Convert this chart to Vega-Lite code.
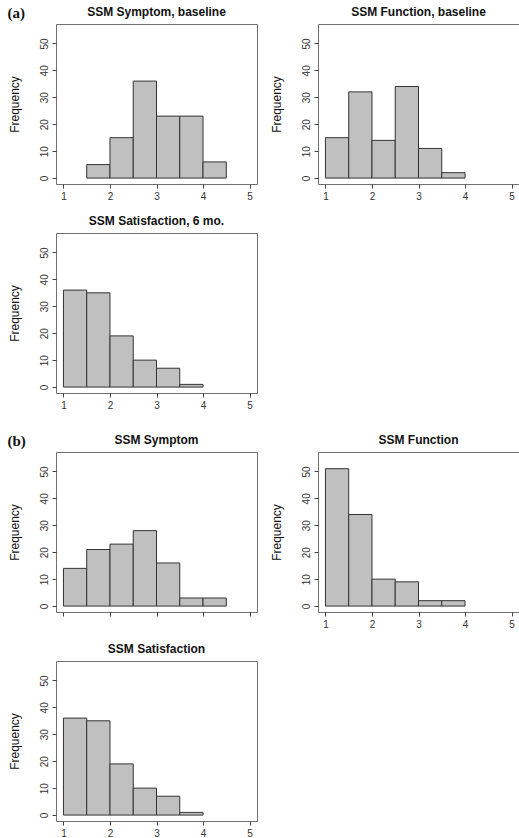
{
  "$schema": "https://vega.github.io/schema/vega-lite/v6.json",
  "background": "white",
  "padding": {"left": 7, "top": 5, "right": 0, "bottom": 0},
  "datasets": {
    "a1": [{"lo": 1.5, "hi": 2, "n": 5}, {"lo": 2, "hi": 2.5, "n": 15}, {"lo": 2.5, "hi": 3, "n": 36}, {"lo": 3, "hi": 3.5, "n": 23}, {"lo": 3.5, "hi": 4, "n": 23}, {"lo": 4, "hi": 4.5, "n": 6}],
    "a2": [{"lo": 1, "hi": 1.5, "n": 15}, {"lo": 1.5, "hi": 2, "n": 32}, {"lo": 2, "hi": 2.5, "n": 14}, {"lo": 2.5, "hi": 3, "n": 34}, {"lo": 3, "hi": 3.5, "n": 11}, {"lo": 3.5, "hi": 4, "n": 2}],
    "a3": [{"lo": 1, "hi": 1.5, "n": 36}, {"lo": 1.5, "hi": 2, "n": 35}, {"lo": 2, "hi": 2.5, "n": 19}, {"lo": 2.5, "hi": 3, "n": 10}, {"lo": 3, "hi": 3.5, "n": 7}, {"lo": 3.5, "hi": 4, "n": 1}],
    "b1": [{"lo": 1, "hi": 1.5, "n": 14}, {"lo": 1.5, "hi": 2, "n": 21}, {"lo": 2, "hi": 2.5, "n": 23}, {"lo": 2.5, "hi": 3, "n": 28}, {"lo": 3, "hi": 3.5, "n": 16}, {"lo": 3.5, "hi": 4, "n": 3}, {"lo": 4, "hi": 4.5, "n": 3}],
    "b2": [{"lo": 1, "hi": 1.5, "n": 51}, {"lo": 1.5, "hi": 2, "n": 34}, {"lo": 2, "hi": 2.5, "n": 10}, {"lo": 2.5, "hi": 3, "n": 9}, {"lo": 3, "hi": 3.5, "n": 2}, {"lo": 3.5, "hi": 4, "n": 2}],
    "b3": [{"lo": 1, "hi": 1.5, "n": 36}, {"lo": 1.5, "hi": 2, "n": 35}, {"lo": 2, "hi": 2.5, "n": 19}, {"lo": 2.5, "hi": 3, "n": 10}, {"lo": 3, "hi": 3.5, "n": 7}, {"lo": 3.5, "hi": 4, "n": 1}]
  },
  "spacing": 22,
  "vconcat": [
    {
      "title": {"text": "(a)", "anchor": "start", "baseline": "top", "offset": 0, "dy": 15, "font": "Liberation Serif", "fontSize": 15, "fontWeight": "bold", "color": "#111"},
      "spacing": 12,
      "vconcat": [
        {
          "spacing": 11,
          "hconcat": [
            {
              "title": "SSM Symptom, baseline",
              "width": 201, "height": 160,
              "data": {"name": "a1"},
              "mark": {"type": "bar", "fill": "#c0c0c0", "stroke": "#333333", "strokeWidth": 1},
              "encoding": {
                "x": {"field": "lo", "type": "quantitative", "scale": {"domain": [0.84, 5.16], "nice": false, "zero": false}, "axis": {"values": [1, 2, 3, 4, 5], "title": null}},
                "x2": {"field": "hi"},
                "y": {"field": "n", "type": "quantitative", "scale": {"domain": [-2.2, 57.2], "nice": false, "zero": false}, "axis": {"values": [0, 10, 20, 30, 40, 50], "title": "Frequency"}},
                "y2": {"datum": 0}
              }
            },
            {
              "title": "SSM Function, baseline",
              "width": 201, "height": 160,
              "data": {"name": "a2"},
              "mark": {"type": "bar", "fill": "#c0c0c0", "stroke": "#333333", "strokeWidth": 1},
              "encoding": {
                "x": {"field": "lo", "type": "quantitative", "scale": {"domain": [0.84, 5.16], "nice": false, "zero": false}, "axis": {"values": [1, 2, 3, 4, 5], "title": null}},
                "x2": {"field": "hi"},
                "y": {"field": "n", "type": "quantitative", "scale": {"domain": [-2.2, 57.2], "nice": false, "zero": false}, "axis": {"values": [0, 10, 20, 30, 40, 50], "title": "Frequency"}},
                "y2": {"datum": 0}
              }
            }
          ]
        },
        {
          "title": "SSM Satisfaction, 6 mo.",
          "width": 201, "height": 160,
          "data": {"name": "a3"},
          "mark": {"type": "bar", "fill": "#c0c0c0", "stroke": "#333333", "strokeWidth": 1},
          "encoding": {
            "x": {"field": "lo", "type": "quantitative", "scale": {"domain": [0.84, 5.16], "nice": false, "zero": false}, "axis": {"values": [1, 2, 3, 4, 5], "title": null}},
            "x2": {"field": "hi"},
            "y": {"field": "n", "type": "quantitative", "scale": {"domain": [-2.2, 57.2], "nice": false, "zero": false}, "axis": {"values": [0, 10, 20, 30, 40, 50], "title": "Frequency"}},
            "y2": {"datum": 0}
          }
        }
      ]
    },
    {
      "title": {"text": "(b)", "anchor": "start", "baseline": "top", "offset": 0, "dy": 15, "font": "Liberation Serif", "fontSize": 15, "fontWeight": "bold", "color": "#111"},
      "spacing": 12,
      "vconcat": [
        {
          "spacing": 11,
          "hconcat": [
            {
              "title": "SSM Symptom",
              "width": 201, "height": 160,
              "data": {"name": "b1"},
              "mark": {"type": "bar", "fill": "#c0c0c0", "stroke": "#333333", "strokeWidth": 1},
              "encoding": {
                "x": {"field": "lo", "type": "quantitative", "scale": {"domain": [0.84, 5.16], "nice": false, "zero": false}, "axis": {"values": [1, 2, 3, 4, 5], "title": null, "labels": false}},
                "x2": {"field": "hi"},
                "y": {"field": "n", "type": "quantitative", "scale": {"domain": [-2.2, 57.2], "nice": false, "zero": false}, "axis": {"values": [0, 10, 20, 30, 40, 50], "title": "Frequency"}},
                "y2": {"datum": 0}
              }
            },
            {
              "title": "SSM Function",
              "width": 201, "height": 160,
              "data": {"name": "b2"},
              "mark": {"type": "bar", "fill": "#c0c0c0", "stroke": "#333333", "strokeWidth": 1},
              "encoding": {
                "x": {"field": "lo", "type": "quantitative", "scale": {"domain": [0.84, 5.16], "nice": false, "zero": false}, "axis": {"values": [1, 2, 3, 4, 5], "title": null}},
                "x2": {"field": "hi"},
                "y": {"field": "n", "type": "quantitative", "scale": {"domain": [-2.2, 57.2], "nice": false, "zero": false}, "axis": {"values": [0, 10, 20, 30, 40, 50], "title": "Frequency"}},
                "y2": {"datum": 0}
              }
            }
          ]
        },
        {
          "title": "SSM Satisfaction",
          "width": 201, "height": 160,
          "data": {"name": "b3"},
          "mark": {"type": "bar", "fill": "#c0c0c0", "stroke": "#333333", "strokeWidth": 1},
          "encoding": {
            "x": {"field": "lo", "type": "quantitative", "scale": {"domain": [0.84, 5.16], "nice": false, "zero": false}, "axis": {"values": [1, 2, 3, 4, 5], "title": null}},
            "x2": {"field": "hi"},
            "y": {"field": "n", "type": "quantitative", "scale": {"domain": [-2.2, 57.2], "nice": false, "zero": false}, "axis": {"values": [0, 10, 20, 30, 40, 50], "title": "Frequency"}},
            "y2": {"datum": 0}
          }
        }
      ]
    }
  ],
  "config": {
    "font": "Liberation Sans",
    "view": {"stroke": "#707070", "strokeWidth": 1},
    "title": {"fontSize": 12, "fontWeight": "bold", "font": "Liberation Sans", "color": "#111111", "offset": 5},
    "axis": {"domain": false, "grid": false, "ticks": true, "tickSize": 4, "tickColor": "#444444", "labelFont": "Liberation Sans", "labelFontSize": 10, "labelColor": "#333333", "labelPadding": 3, "titleFont": "Liberation Sans", "titleFontSize": 12, "titleFontWeight": "normal", "titleColor": "#111111"},
    "axisY": {"labelAngle": -90, "titlePadding": 18}
  }
}
